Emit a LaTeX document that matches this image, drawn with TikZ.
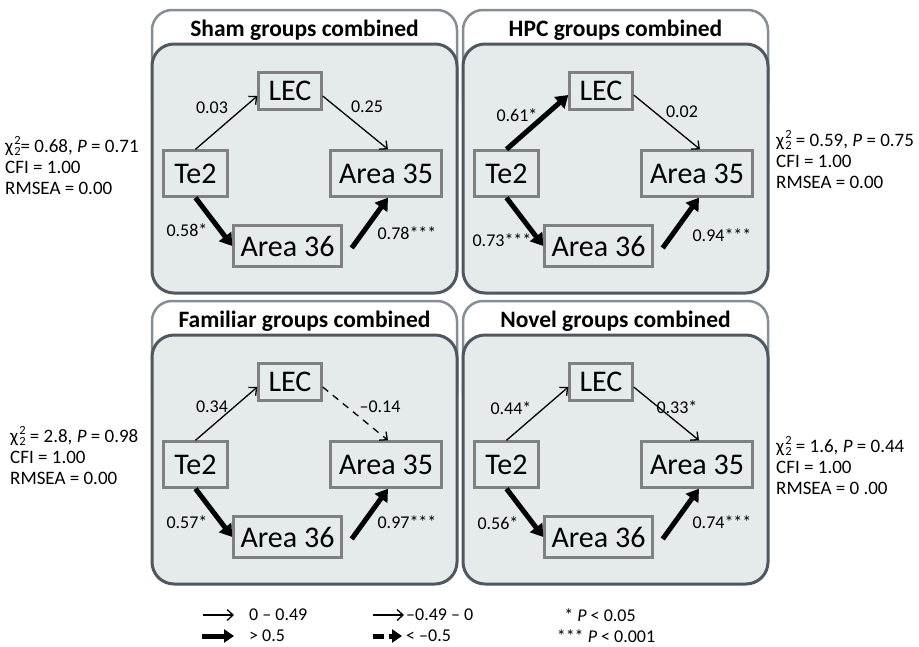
\documentclass[tikz,border=0pt]{standalone}
\usepackage{fontspec}
\setmainfont{Carlito}
\usetikzlibrary{arrows.meta}

\definecolor{panelfill}{HTML}{E5EAEB}
\definecolor{panelline}{HTML}{4F5761}
\definecolor{tabline}{HTML}{878D95}
\definecolor{boxline}{HTML}{808080}

\tikzset{
  tabframe/.style={draw=tabline, line width=2.5pt, fill=white, rounded corners=20pt},
  innerframe/.style={draw=panelline, line width=3pt, fill=panelfill, rounded corners=22pt},
  paneltitle/.style={font=\fontsize{23.5}{28}\selectfont\bfseries},
  region/.style={draw=boxline, line width=2.4pt, fill=panelfill, inner sep=0pt,
    font=\fontsize{30}{36}\selectfont},
  weak/.style={line width=1.3pt, -{Straight Barb[length=6pt,width=11pt]}},
  strong/.style={line width=5pt, -{Triangle[length=12pt,width=15pt]}},
  coef/.style={font=\fontsize{18}{21}\selectfont, inner sep=0pt},
  fitstats/.style={font=\fontsize{19}{21}\selectfont, align=left, anchor=west, inner sep=0pt},
}

% chi-square with stacked super- and subscript (kept out of the line spacing)
\newcommand\idx[1]{{\fontsize{12.5}{12.5}\selectfont #1}}
\newcommand\chisq{χ\kern1pt\smash{\rlap{\raisebox{0.42em}{\idx{2}}}\raisebox{-0.18em}{\idx{2}}}}

% frame, title and the four regions of one path model
\newcommand\pathpanel[2]{%
  \draw[tabframe] (152,120) rectangle (457,10);
  \draw[innerframe] (152,44) rectangle (457,293);
  \node[paneltitle] (#1title) at (304.5,30) {#2};
  \node[region, minimum width=63pt, minimum height=37pt] (#1lec) at (290,91) {LEC};
  \node[region, minimum width=64pt, minimum height=46pt] (#1te) at (195.5,173.5) {Te2};
  \node[region, minimum width=111pt, minimum height=46pt] (#1a) at (386,173.5) {Area 35};
  \node[region, minimum width=108pt, minimum height=41pt] (#1b) at (287.5,246) {Area 36};
}

\begin{document}
\begin{tikzpicture}[x=1pt, y=-1pt]
\useasboundingbox (0,0) rectangle (919,646);

% Sham
\begin{scope}
  \pathpanel{S}{Sham groups combined}
  \draw[weak] (Ste.north) -- ([yshift=-5pt]Slec.west);
  \draw[weak] ([yshift=-5pt]Slec.east) -- ([xshift=2pt]Sa.north);
  \draw[strong] (Ste.south) -- (Sb.west);
  \draw[strong] ([xshift=9pt,yshift=-2pt]Sb.east) -- ([xshift=2pt]Sa.south);
  \node[coef] (Sc1) at (212,108) {0.03};
  \node[coef] (Sc2) at (367,107) {0.25};
  \node[coef] (Sc3) at (187,230) {0.58*};
  \node[coef] (Sc4) at (407,233) {0.78***};
\end{scope}

% HPC
\begin{scope}[shift={(311,0)}]
  \pathpanel{H}{HPC groups combined}
  \draw[strong] (Hte.north) -- ([yshift=-4pt]Hlec.west);
  \draw[weak] ([yshift=-4pt]Hlec.east) -- ([xshift=3pt]Ha.north);
  \draw[strong] (Hte.south) -- (Hb.west);
  \draw[strong] ([xshift=9pt,yshift=-2pt]Hb.east) -- ([xshift=2pt]Ha.south);
  \node[coef] (Hc1) at (206,115) {0.61*};
  \node[coef] (Hc2) at (371,112) {0.02};
  \node[coef] (Hc3) at (191,240) {0.73***};
  \node[coef] (Hc4) at (411,235) {0.94***};
\end{scope}

% Familiar
\begin{scope}[shift={(0,291)}]
  \pathpanel{F}{Familiar groups combined}
  \draw[weak] (Fte.north) -- ([yshift=-5pt]Flec.west);
  \draw[weak, dash pattern=on 7pt off 6pt] ([yshift=-5pt]Flec.east) -- ([xshift=2pt]Fa.north);
  \draw[strong] (Fte.south) -- (Fb.west);
  \draw[strong] ([xshift=9pt,yshift=-2pt]Fb.east) -- ([xshift=2pt]Fa.south);
  \node[coef] (Fc1) at (212,116) {0.34};
  \node[coef] (Fc2) at (380,116) {–0.14};
  \node[coef] (Fc3) at (187,231) {0.57*};
  \node[coef] (Fc4) at (407,231) {0.97***};
\end{scope}

% Novel
\begin{scope}[shift={(311,291)}]
  \pathpanel{N}{Novel groups combined}
  \draw[weak] (Nte.north) -- ([yshift=-5pt]Nlec.west);
  \draw[weak] ([yshift=-5pt]Nlec.east) -- ([xshift=2pt]Na.north);
  \draw[strong] (Nte.south) -- (Nb.west);
  \draw[strong] ([xshift=9pt,yshift=-2pt]Nb.east) -- ([xshift=2pt]Na.south);
  \node[coef] (Nc1) at (200,117) {0.44*};
  \node[coef] (Nc2) at (366,116) {0.33*};
  \node[coef] (Nc3) at (187,232) {0.56*};
  \node[coef] (Nc4) at (411,231) {0.74***};
\end{scope}

% model fit statistics
\node[fitstats] (fitS) at (5,167) {\chisq= 0.68, \textit{P} = 0.71\\CFI = 1.00\\RMSEA = 0.00};
\node[fitstats] (fitH) at (776,161) {\chisq{} = 0.59, \textit{P} = 0.75\\CFI = 1.00\\RMSEA = 0.00};
\node[fitstats] (fitF) at (10,457) {\chisq{} = 2.8, \textit{P} = 0.98\\CFI = 1.00\\RMSEA = 0.00};
\node[fitstats] (fitN) at (776,467) {\chisq{} = 1.6, \textit{P} = 0.44\\CFI = 1.00\\RMSEA = 0 .00};

% legend
\coordinate (k1a) at (203,615); \coordinate (k1b) at (234,615);
\coordinate (k2a) at (202,636); \coordinate (k2b) at (234,636);
\coordinate (k3a) at (373,615); \coordinate (k3b) at (404,615);
\coordinate (k4a) at (373,636); \coordinate (k4b) at (402,636);
\draw[weak] (k1a) -- (k1b);
\draw[strong, -{Triangle[length=10pt,width=13pt]}] (k2a) -- (k2b);
\draw[weak] (k3a) -- (k3b);
\draw[strong, -{Triangle[length=10pt,width=13pt]}, dash pattern=on 11pt off 5pt] (k4a) -- (k4b);
\node[coef, anchor=west] (l1) at (249,615) {0 – 0.49};
\node[coef, anchor=west] (l2) at (249,636) {> 0.5};
\node[coef, anchor=west] (l3) at (406,615) {–0.49 – 0};
\node[coef, anchor=west] (l4) at (406,636) {< –0.5};
\node[coef] (l5) at (600,615) {* \textit{P} < 0.05};
\node[coef] (l6) at (606,636) {*** \textit{P} < 0.001};
\end{tikzpicture}
\end{document}
